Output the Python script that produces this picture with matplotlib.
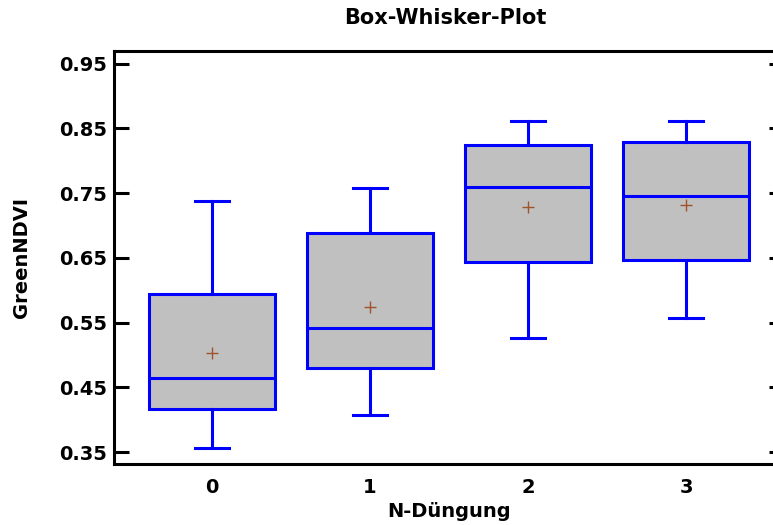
import matplotlib
matplotlib.use("Agg")
import matplotlib.pyplot as plt

# N-Düngung levels and five-number summaries of GreenNDVI per level
groups = ["0", "1", "2", "3"]
whis_lo = [0.356, 0.407, 0.526, 0.557]
q1 = [0.416, 0.480, 0.644, 0.647]
medians = [0.465, 0.541, 0.760, 0.746]
q3 = [0.594, 0.688, 0.825, 0.829]
whis_hi = [0.738, 0.758, 0.861, 0.861]
means = [0.503, 0.574, 0.728, 0.732]

yticks = [0.35, 0.45, 0.55, 0.65, 0.75, 0.85, 0.95]

plt.rcParams['font.family'] = ['DejaVu Sans']
plt.rcParams['font.weight'] = 'bold'

fig = plt.figure(figsize=(7.73, 5.25), dpi=100)
# frame runs a little past the right edge of the figure
ax = fig.add_axes([0.1475, 0.1162, 0.8668, 0.7872])

stats = []
for i in range(len(groups)):
    stats.append(dict(label=groups[i], whislo=whis_lo[i], q1=q1[i], med=medians[i],
                      q3=q3[i], whishi=whis_hi[i], mean=means[i], fliers=[]))

blue = '#0000ff'
ax.bxp(stats, positions=range(len(groups)), widths=0.80, showmeans=True,
       patch_artist=True, showfliers=False,
       boxprops=dict(facecolor='#c0c0c0', edgecolor=blue, linewidth=2.2),
       medianprops=dict(color=blue, linewidth=2.2),
       whiskerprops=dict(color=blue, linewidth=2.2),
       capprops=dict(color=blue, linewidth=2.2),
       capwidths=0.215,
       meanprops=dict(marker='+', markeredgecolor='#a0522d', markersize=8,
                      markeredgewidth=1.0, linestyle='none'))

ax.set_xlim(-0.62, 3.62)
ax.set_ylim(0.3315, 0.97)
ax.set_yticks(yticks)
ax.set_yticklabels([f"{t:.2f}" for t in yticks])
ax.set_xticks(range(len(groups)))
ax.set_xticklabels(groups)

for s in ax.spines.values():
    s.set_linewidth(2.2)
ax.tick_params(axis='y', direction='in', length=11, width=2.2, labelsize=14,
               pad=5, right=True)
ax.tick_params(axis='x', length=0, labelsize=14, pad=10)

ax.set_xlabel("N-Düngung", fontsize=14, fontweight='bold', labelpad=4)
ax.set_ylabel("GreenNDVI", fontsize=14, fontweight='bold', labelpad=20)
fig.text(445 / 773, 1 - 18 / 525, "Box-Whisker-Plot", ha='center', va='center',
         fontsize=15, fontweight='bold')

fig.savefig("out.png", dpi=100)
